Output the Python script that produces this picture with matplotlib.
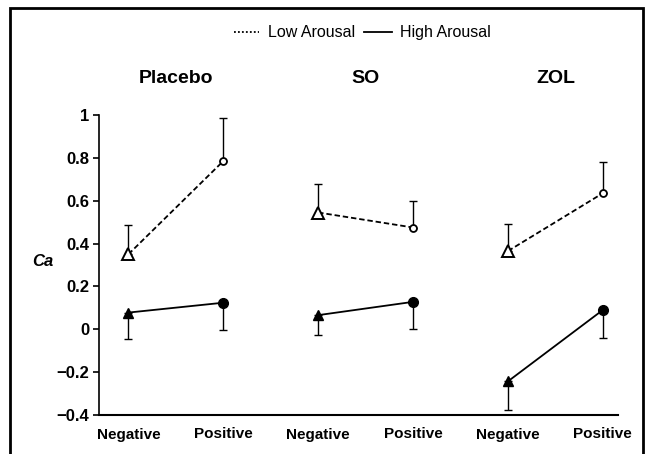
import matplotlib.pyplot as plt
from matplotlib.lines import Line2D
from matplotlib.patches import Rectangle

plt.rcParams['font.family'] = ['Liberation Sans', 'DejaVu Sans']

groups = ['Placebo', 'SO', 'ZOL']
valence = ['Negative', 'Positive']

# Ca values per group: [Negative, Positive]
low_mean = [[0.35, 0.785], [0.545, 0.475], [0.365, 0.635]]
low_err = [[0.135, 0.20], [0.135, 0.125], [0.125, 0.145]]
high_mean = [[0.078, 0.124], [0.066, 0.128], [-0.243, 0.090]]
high_err = [[0.125, 0.125], [0.092, 0.128], [0.132, 0.130]]

fig = plt.figure(figsize=(6.5, 4.54), dpi=100)
ax = fig.add_axes([99 / 650, 1 - 415 / 454, (618 - 99) / 650, 300 / 454])

for g in range(len(groups)):
    x = [2 * g, 2 * g + 1]
    # low arousal: dashed, open markers, error bars upward
    ax.errorbar(x, low_mean[g], yerr=[[0, 0], low_err[g]], fmt='none',
                ecolor='black', elinewidth=1, capsize=3, capthick=1, zorder=1)
    ax.plot(x, low_mean[g], color='black', linestyle=(0, (3, 1.6)), linewidth=1.3, zorder=2)
    ax.plot(x[0], low_mean[g][0], marker='^', markersize=8, markerfacecolor='white',
            markeredgecolor='black', markeredgewidth=1.4, zorder=3)
    ax.plot(x[1], low_mean[g][1], marker='o', markersize=5, markerfacecolor='white',
            markeredgecolor='black', markeredgewidth=1.3, zorder=3)
    # high arousal: solid, filled markers, error bars downward
    ax.errorbar(x, high_mean[g], yerr=[high_err[g], [0, 0]], fmt='none',
                ecolor='black', elinewidth=1, capsize=3, capthick=1, zorder=1)
    ax.plot(x, high_mean[g], color='black', linewidth=1.3, zorder=2)
    ax.plot(x[0], high_mean[g][0], marker='^', markersize=7, color='black', zorder=3)
    ax.plot(x[1], high_mean[g][1], marker='o', markersize=7, color='black', zorder=3)
    ax.text(2 * g + 0.5, 1.17, groups[g], ha='center', va='center',
            fontsize=14, fontweight='bold', clip_on=False)

ax.set_xlim(-0.31, 5.16)
ax.set_ylim(-0.4, 1.0)
ax.set_yticks([-0.4, -0.2, 0, 0.2, 0.4, 0.6, 0.8, 1])
ax.set_yticklabels(['\u22120.4', '\u22120.2', '0', '0.2', '0.4', '0.6', '0.8', '1'],
                   fontsize=12, fontweight='bold')
ax.set_xticks(range(6))
ax.set_xticklabels(valence * 3, fontsize=11, fontweight='bold')
ax.tick_params(axis='x', length=0, pad=9)
ax.tick_params(axis='y', length=4, width=1.2, pad=3)
for s in ['top', 'right']:
    ax.spines[s].set_visible(False)
ax.spines['left'].set_linewidth(1.2)
ax.spines['bottom'].set_linewidth(1.5)

fig.text(43 / 650, 1 - 262 / 454, 'Ca', fontsize=12, fontweight='bold',
         fontstyle='italic', ha='center', va='center')

# legend row drawn by hand so both labels share one baseline
ly = 1 - 32 / 454
fig.add_artist(Line2D([234 / 650, 259 / 650], [ly, ly], color='black',
                      linestyle=(0, (1, 1.2)), linewidth=1.3))
fig.text(268 / 650, 1 - 37 / 454, 'Low Arousal', fontsize=11.5, va='baseline')
fig.add_artist(Line2D([364 / 650, 392 / 650], [ly, ly], color='black', linewidth=1.3))
fig.text(400 / 650, 1 - 37 / 454, 'High Arousal', fontsize=11.5, va='baseline')

fig.patches.append(Rectangle((10 / 650, -0.1), 633 / 650, 1.1 - 8 / 454,
                             transform=fig.transFigure, fill=False,
                             edgecolor='black', linewidth=2))

plt.savefig('out.png', dpi=100)
